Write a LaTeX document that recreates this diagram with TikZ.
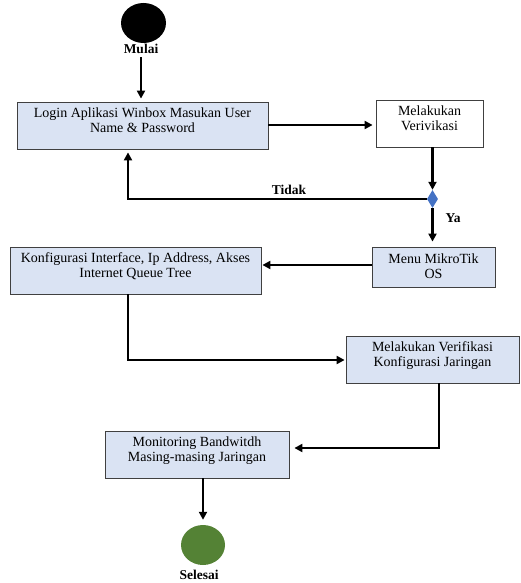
\documentclass[tikz,border=0pt]{standalone}
\usepackage{fontspec}
\setmainfont{Liberation Serif}
\usetikzlibrary{shapes.geometric,arrows.meta}
\definecolor{boxblue}{HTML}{DAE3F3}
\definecolor{diablue}{HTML}{4472C4}
\definecolor{endgreen}{HTML}{548235}
\tikzset{flow/.cd,
         box/.style={draw=black!75,line width=0.8pt,fill=boxblue,align=center,
                     inner sep=0pt,text height=25pt,text depth=12pt,
                     font=\fontsize{14}{15}\selectfont},
         plain box/.style={flow/box,fill=white},
         centred box/.style={flow/box,text depth=3pt},
         start/.style={ellipse,fill=black,minimum width=45pt,inner sep=0pt},
         stop/.style={ellipse,fill=endgreen,minimum width=44pt,inner sep=0pt},
         decision/.style={diamond,fill=diablue,minimum width=11pt,minimum height=18pt,
                          inner sep=0pt},
         label/.style={font=\bfseries\fontsize{13.5}{15}\selectfont},
         arrow/.style={line width=2.2pt,-{Triangle[length=8pt,width=8pt]}},
         line/.style={line width=2.2pt}}
\begin{document}
\begin{tikzpicture}[x=1pt,y=-1pt]
\useasboundingbox (0,0) rectangle (520,583);
% terminals
\node (mulai)[flow/start,minimum height=40pt] at (143.5,23) {};
\node (mulai label)[flow/label] at (141,49) {Mulai};
\node (selesai)[flow/stop,minimum height=40pt] at (203,545) {};
\node (selesai label)[flow/label] at (199,575) {Selesai};
% process boxes
\node (login)[flow/box,minimum width=251pt,minimum height=47pt] at (142.5,125.5)
     {Login Aplikasi Winbox Masukan User\\Name \& Password};
\node (verivikasi)[flow/plain box,minimum width=107pt,minimum height=47pt] at (429.5,123.5)
     {Melakukan\\Verivikasi};
\node (cek)[flow/decision] at (432.5,199) {};
\node (menu)[flow/centred box,minimum width=123pt,minimum height=40pt] at (433.5,267)
     {Menu MikroTik\\OS};
\node (konfigurasi)[flow/box,minimum width=251pt,minimum height=47pt] at (135.5,270.5)
     {Konfigurasi Interface, Ip Address, Akses\\Internet Queue Tree};
\node (verifikasi)[flow/box,minimum width=173pt,minimum height=47pt] at (432.5,359.5)
     {Melakukan Verifikasi\\Konfigurasi Jaringan};
\node (monitoring)[flow/box,minimum width=184pt,minimum height=47pt] at (197,454.5)
     {Monitoring Bandwitdh\\Masing-masing Jaringan};
% lanes for the bent connectors
\coordinate (lane) at (128,0);
\coordinate (lane right) at (439,0);
% connectors
\draw[flow/arrow,shorten >=3pt] (mulai label.south -| 141,0) -- (login.north -| 141,0);
\draw[flow/arrow,shorten >=3pt] (login.east |- 0,125) -- (verivikasi.west |- 0,125);
\draw[flow/arrow] (verivikasi.south -| cek) -- (cek.north);
\draw[flow/arrow,shorten >=3pt] (cek.west) -| (login.south -| lane);
\node (tidak)[flow/label,anchor=south] at (289,198) {Tidak};
\draw[flow/arrow,shorten >=5pt] (cek.south) -- (menu.north -| cek);
\node (ya)[flow/label] at (453,218) {Ya};
\draw[flow/arrow,shorten >=1pt] (menu.west |- 0,265) -- (konfigurasi.east |- 0,265);
\draw[flow/arrow,shorten >=1pt] (konfigurasi.south -| lane) |- (verifikasi.west |- 0,360);
\draw[flow/arrow,shorten >=5pt] (verifikasi.south -| lane right) |- (monitoring.east |- 0,448);
\draw[flow/arrow,shorten >=5pt] (monitoring.south -| 203,0) -- (selesai.north);
\end{tikzpicture}
\end{document}
